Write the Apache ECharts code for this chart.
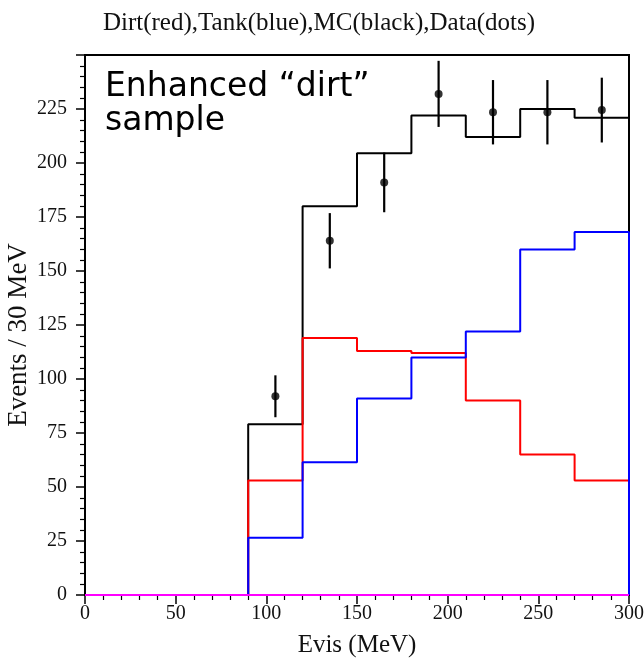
<!DOCTYPE html>
<html>
<head>
<meta charset="utf-8">
<script src="https://cdn.jsdelivr.net/npm/echarts@6/dist/echarts.min.js"></script>
<style>html,body{margin:0;padding:0;background:#fff;}#c{width:644px;height:659px;}</style>
</head>
<body>
<div id="c"></div>
<script>
// Bin edges (MeV) and contents per 30 MeV bin
const binEdges = [0, 30, 60, 90, 120, 150, 180, 210, 240, 270, 300];
const dirt = [0, 0, 0, 53, 119, 113, 112, 90, 65, 53];
const tank = [0, 0, 0, 26.5, 61.5, 91, 110, 122, 160, 168];
const mc   = [0, 0, 0, 79, 180, 204.5, 222, 212, 225, 221];
const baseline = [0, 0, 0, 0, 0, 0, 0, 0, 0, 0];
// Data points
const dataX = [105, 135, 165, 195, 225, 255, 285];
const dataY = [92, 164, 191, 232, 223.5, 223.5, 224.5];
const dataErr = [9.7, 12.8, 13.8, 15.3, 14.9, 14.9, 15];
const xTicks = [0, 50, 100, 150, 200, 250, 300];
const yTicks = [0, 25, 50, 75, 100, 125, 150, 175, 200, 225];
const yTitle = 'Events / 30 MeV';
const xTitle = 'Evis (MeV)';

function stepPoints(vals) {
  const pts = [[binEdges[0], 0]];
  for (let i = 0; i < vals.length; i++) {
    pts.push([binEdges[i], vals[i]]);
    pts.push([binEdges[i + 1], vals[i]]);
  }
  pts.push([binEdges[binEdges.length - 1], 0]);
  return pts;
}

const serif = '"Liberation Serif", "DejaVu Serif", serif';
const chart = echarts.init(document.getElementById('c'), null, {renderer: 'canvas'});

function histSeries(name, vals, color, z) {
  return {
    name: name, type: 'line', data: stepPoints(vals), symbol: 'none',
    lineStyle: {color: color, width: 2}, z: z, animation: false, clip: true
  };
}

chart.setOption({
  animation: false,
  title: {
    text: 'Dirt(red),Tank(blue),MC(black),Data(dots)',
    left: 314, top: 6, textAlign: 'center',
    textStyle: {fontFamily: serif, fontSize: 25, fontWeight: 'normal', color: '#111'}
  },
  grid: {left: 85, right: 15, top: 55, bottom: 64, show: true, borderColor: '#000', borderWidth: 2,
    backgroundColor: 'transparent', containLabel: false, outerBoundsMode: 'none'},
  xAxis: {
    type: 'value', min: 0, max: 300, interval: 50,
    name: xTitle, nameLocation: 'middle', nameGap: 38,
    nameTextStyle: {fontFamily: serif, fontSize: 25, color: '#111'},
    axisLine: {show: true, onZero: false, lineStyle: {color: '#000', width: 2}},
    axisTick: {show: true, length: 9, lineStyle: {color: '#000', width: 1.5}},
    minorTick: {show: true, splitNumber: 5, length: 5, lineStyle: {color: '#000', width: 1.2}},
    axisLabel: {fontFamily: serif, fontSize: 20, color: '#111', margin: 9,
      formatter: v => xTicks.includes(v) ? String(v) : ''},
    splitLine: {show: false}
  },
  yAxis: {
    type: 'value', min: 0, max: 250, interval: 25,
    axisLine: {show: true, onZero: false, lineStyle: {color: '#000', width: 2}},
    axisTick: {show: true, length: 9, lineStyle: {color: '#000', width: 1.5}},
    minorTick: {show: true, splitNumber: 5, length: 5, lineStyle: {color: '#000', width: 1.2}},
    axisLabel: {fontFamily: serif, fontSize: 20, color: '#111', margin: 18, showMaxLabel: false,
      formatter: v => yTicks.includes(v) ? String(v) : ''},
    splitLine: {show: false}
  },
  graphic: [{
    type: 'text', left: 105, top: 70, z: 100,
    style: {text: 'Enhanced \u201cdirt\u201d\nsample', font: '33px "DejaVu Sans", sans-serif', fill: '#000', lineHeight: 34}
  }, {
    type: 'text', x: 19, y: 335, rotation: Math.PI / 2, z: 100,
    style: {text: yTitle, font: '27px "Liberation Serif", serif', fill: '#111', align: 'center', verticalAlign: 'middle'}
  }],
  series: [
    histSeries('MC', mc, '#000000', 2),
    histSeries('Dirt', dirt, '#ff0000', 3),
    histSeries('Tank', tank, '#0000ff', 4),
    histSeries('zero', baseline, '#ff00ff', 5),
    {
      name: 'Data err', type: 'custom', z: 6,
      data: dataX.map((x, i) => [x, dataY[i], dataErr[i]]),
      renderItem: function (params, api) {
        const x = api.value(0), y = api.value(1), e = api.value(2);
        const p1 = api.coord([x, Math.min(y + e, 250)]);
        const p2 = api.coord([x, Math.max(y - e, 0)]);
        return {type: 'line', shape: {x1: p1[0], y1: p1[1], x2: p2[0], y2: p2[1]},
          style: {stroke: '#000', lineWidth: 2.2}};
      }
    },
    {
      name: 'Data', type: 'scatter', z: 7, symbol: 'circle', symbolSize: 8,
      itemStyle: {color: '#000'},
      data: dataX.map((x, i) => [x, dataY[i]])
    }
  ]
});
</script>
</body>
</html>
